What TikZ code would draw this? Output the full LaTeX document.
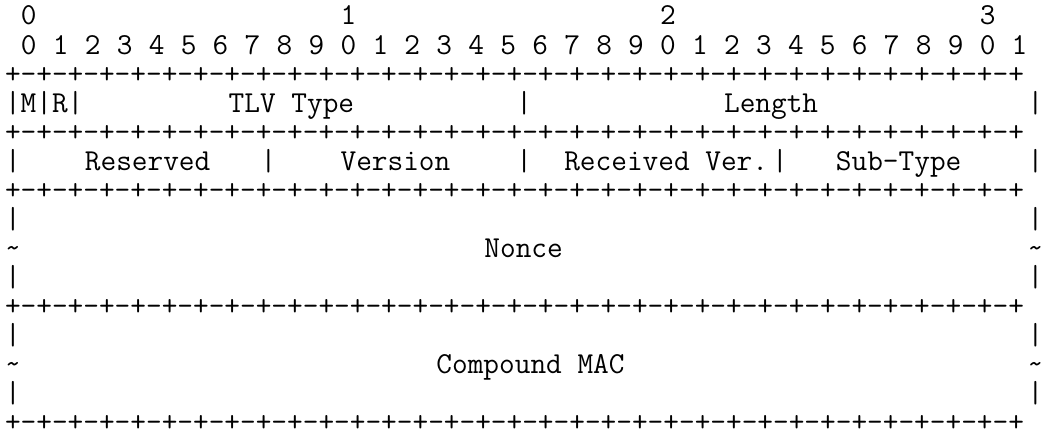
\documentclass[tikz,border=0pt]{standalone}
\usepackage{fontspec}
\tikzset{
  ascii/.style={anchor=base west, inner sep=0pt, outer sep=0pt,
    font=\ttfamily\fontsize{30.44pt}{29pt}\selectfont},
}
\newcommand\rfcrule{+-+-+-+-+-+-+-+-+-+-+-+-+-+-+-+-+-+-+-+-+-+-+-+-+-+-+-+-+-+-+-+-+}

\begin{document}
\begin{tikzpicture}[x=15.98pt, y=-29.04pt]
  \useasboundingbox (-0.813,-0.861) rectangle (64.52,14.118);
  % bit numbering
  \foreach \d in {0,...,3}
    \node[ascii] (ten\d) at (20*\d+0.5,0) {\d};
  \foreach \i in {0,...,31} {
    \pgfmathtruncatemacro\u{mod(\i,10)}
    \node[ascii] (bit\i) at (2*\i+0.5,1) {\u};
  }
  % separator rows
  \foreach \r in {2,4,6,10,14}
    \node[ascii] (rule\r) at (-0.5,\r) {\rfcrule};
  % first word
  \node[ascii] (flags) at (-0.5,3) {|M|R|};
  \node[ascii] (tlvtype) at (13.5,3) {TLV Type};
  \node[ascii] (length) at (44.5,3) {Length};
  \foreach \c in {32,64}
    \node[ascii] (bara\c) at (\c-0.5,3) {|};
  % second word
  \node[ascii] (reserved) at (4.5,5) {Reserved};
  \node[ascii] (version) at (20.5,5) {Version};
  \node[ascii] (recver) at (34.5,5) {Received Ver.};
  \node[ascii] (subtype) at (51.5,5) {Sub-Type};
  \foreach \c in {0,16,32,48,64}
    \node[ascii] (barb\c) at (\c-0.5,5) {|};
  % variable length fields
  \foreach \r in {7,9,11,13} {
    \node[ascii] (left\r) at (-0.5,\r) {|};
    \node[ascii] (right\r) at (63.5,\r) {|};
  }
  \foreach \r in {8,12} {
    \node[ascii] (tildel\r) at (-0.5,\r) {\textasciitilde};
    \node[ascii] (tilder\r) at (63.5,\r) {\textasciitilde};
  }
  \node[ascii] (nonce) at (29.5,8) {Nonce};
  \node[ascii] (mac) at (26.5,12) {Compound MAC};
\end{tikzpicture}
\end{document}
